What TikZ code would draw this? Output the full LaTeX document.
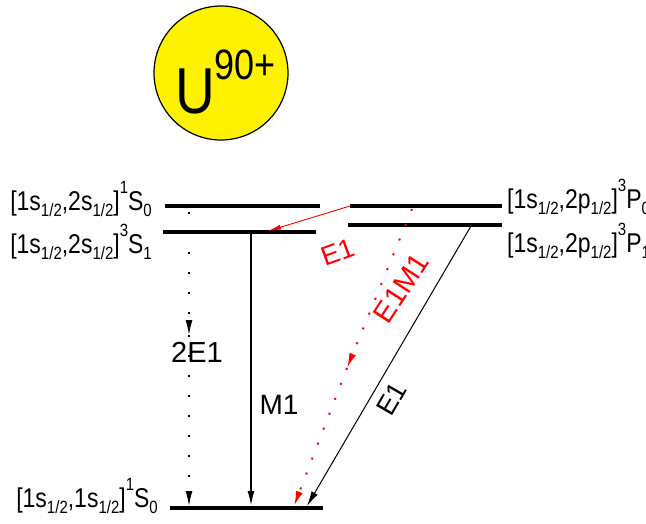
\documentclass[tikz,border=0pt]{standalone}
\usepackage{fontspec}
\setmainfont{Liberation Sans}
\usepackage{graphicx}
\usetikzlibrary{arrows.meta, positioning}

\newcommand{\lowtxt}[1]{\raisebox{-0.24em}{\fontsize{15}{15}\selectfont #1}}
\newcommand{\hightxt}[1]{\raisebox{0.6em}{\fontsize{15}{15}\selectfont #1}}
\newcommand{\tallbox}[1]{\scalebox{1}[1.18]{#1}}

\begin{document}
\begin{tikzpicture}[
    x=1pt, y=-1pt,
    level/.style={line width=3.2pt},
    statelabel/.style={inner sep=0pt, font=\fontsize{23}{23}\selectfont},
    translabel/.style={inner sep=0pt, font=\fontsize{29}{29}\selectfont},
    tip/.style={-{Latex[length=15pt,width=7pt]}},
    solidarrow/.style={tip, line width=1.8pt},
    thinarrow/.style={tip, line width=1pt},
    dotarrow/.style={tip, line width=1.4pt, dash pattern=on 2pt off 18pt},
    reddot/.style={tip, red, line width=2pt, dash pattern=on 2pt off 14pt},
    redarrow/.style={-{Latex[length=13pt,width=5pt]}, red, line width=0.9pt}
]
    \useasboundingbox (0,0) rectangle (646,523);

    % Ion
    \node [circle, draw, line width=1.2pt, fill=yellow, minimum size=134pt,
        inner sep=0pt] (ion) at (221,73) {};
    \node [anchor=base west, inner sep=0pt] (ionname) at (175,113)
        {\tallbox{\fontsize{55}{55}\selectfont U\raisebox{28pt}{\fontsize{36}{36}\selectfont 90+}}};

    % Levels
    \coordinate (s0L) at (165,206); \coordinate (s0R) at (320,206);
    \coordinate (s1L) at (163,232); \coordinate (s1R) at (316,232);
    \coordinate (p0L) at (350,206); \coordinate (p0R) at (502,206);
    \coordinate (p1L) at (348,225); \coordinate (p1R) at (502,225);
    \coordinate (gL) at (170,508);  \coordinate (gR) at (323,508);

    \draw[level] (s0L) -- (s0R);
    \draw[level] (s1L) -- (s1R);
    \draw[level] (p0L) -- (p0R);
    \draw[level] (p1L) -- (p1R);
    \draw[level] (gL) -- (gR);

    % Level labels
    \node [statelabel, anchor=base east] (s0text) at (152,210)
        {\tallbox{[1s\lowtxt{1/2},2s\lowtxt{1/2}]\hightxt{1}S\lowtxt{0}}};
    \node [statelabel, anchor=base east] (s1text) at (152,253)
        {\tallbox{[1s\lowtxt{1/2},2s\lowtxt{1/2}]\hightxt{3}S\lowtxt{1}}};
    \node [statelabel, anchor=base west] (p0text) at (507,208)
        {\tallbox{[1s\lowtxt{1/2},2p\lowtxt{1/2}]\hightxt{3}P\lowtxt{0}}};
    \node [statelabel, anchor=base west] (p1text) at (507,252)
        {\tallbox{[1s\lowtxt{1/2},2p\lowtxt{1/2}]\hightxt{3}P\lowtxt{1}}};
    \node [statelabel, anchor=base east] (gtext) at (158,507)
        {\tallbox{[1s\lowtxt{1/2},1s\lowtxt{1/2}]\hightxt{1}S\lowtxt{0}}};

    % Transition points
    \coordinate (twoA) at (189,212);
    \coordinate (twoM) at (189,335);
    \coordinate (twoB) at (189,506);
    \coordinate (m1A) at (251,231);
    \coordinate (m1B) at (251,506);
    \coordinate (emA) at (412,209);
    \coordinate (emM) at (347,368);
    \coordinate (emB) at (294,506);
    \coordinate (e1A) at (471,226);
    \coordinate (e1B) at (307,506);
    \coordinate (reA) at (350,206);
    \coordinate (reB) at (268,231);

    % Transitions
    \draw[dotarrow] (twoA) -- (twoM);
    \draw[dotarrow] (twoM) -- (twoB);
    \draw[solidarrow] (m1A) -- (m1B);
    \draw[reddot] (emA) -- (emM);
    \draw[reddot] (emM) -- (emB);
    \draw[thinarrow] (e1A) -- (e1B);
    \draw[redarrow] (reA) -- (reB);

    % Transition labels
    \node [translabel] (twolabel) at (197,352) {2E1};
    \node [translabel, font=\fontsize{28}{28}\selectfont] (m1label) at (279,405) {M1};
    \node [translabel, red, rotate=20, font=\fontsize{27}{27}\selectfont] (relabel) at (338,252) {E1};
    \node [translabel, red, rotate=57] (emlabel) at (401,288) {E1M1};
    \node [translabel, rotate=60, font=\fontsize{27}{27}\selectfont] (e1label) at (392,399) {E1};

\end{tikzpicture}
\end{document}
